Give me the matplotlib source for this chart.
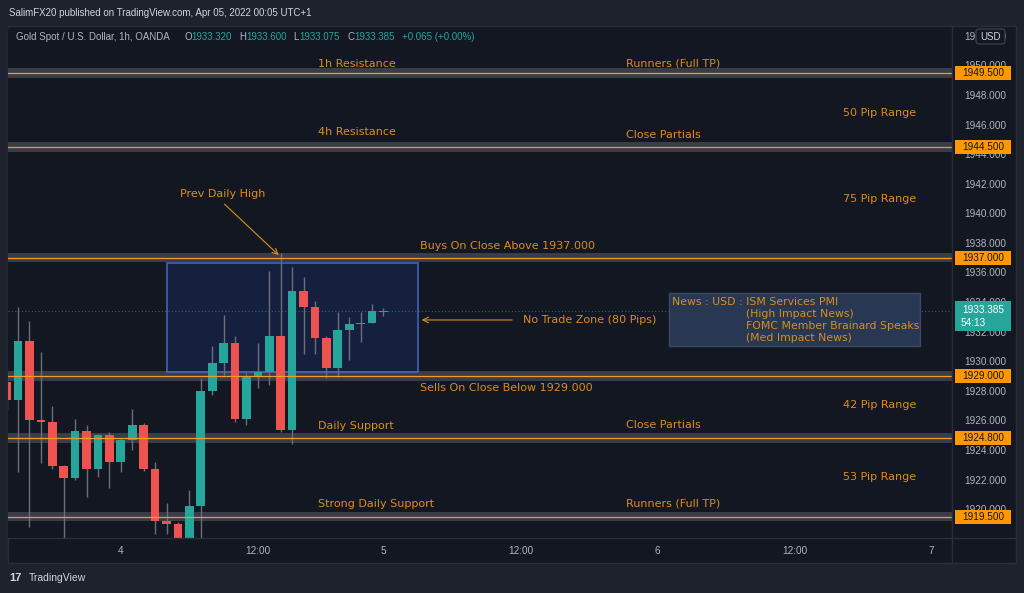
import matplotlib
matplotlib.use("Agg")
import matplotlib.pyplot as plt
import matplotlib.transforms as mtransforms
from matplotlib.patches import Rectangle, FancyBboxPatch

# hourly XAUUSD candles, bar 0 = Apr 4 00:00 (UTC+1)
bars = list(range(-10, 24))
opens = [1928.6, 1927.4, 1931.4, 1926.0, 1925.9, 1922.9, 1922.1, 1925.3, 1922.7, 1925.0,
         1923.2, 1924.7, 1925.7, 1922.7, 1919.2, 1919.0, 1917.8, 1920.2, 1928.0, 1929.9,
         1931.2, 1926.1, 1929.0, 1929.3, 1931.7, 1925.35, 1934.75, 1933.65, 1931.6, 1929.55,
         1932.1, 1932.5, 1932.6, 1933.32]
highs = [1929.3, 1933.7, 1932.7, 1930.6, 1927.0, 1923.0, 1926.1, 1925.7, 1925.1, 1925.2,
         1924.8, 1926.8, 1925.8, 1923.2, 1920.4, 1919.1, 1921.3, 1928.9, 1931.0, 1933.1,
         1931.7, 1929.2, 1931.2, 1936.1, 1937.3, 1936.4, 1935.7, 1934.1, 1931.7, 1933.35,
         1933.0, 1933.35, 1933.85, 1933.6]
lows = [1926.8, 1922.5, 1918.8, 1923.1, 1922.7, 1917.9, 1922.0, 1920.8, 1922.2, 1921.4,
        1922.5, 1924.0, 1922.6, 1918.3, 1918.3, 1917.7, 1917.6, 1917.6, 1927.7, 1929.1,
        1925.9, 1925.7, 1928.2, 1928.4, 1925.2, 1924.4, 1930.5, 1930.5, 1928.85, 1928.95,
        1930.1, 1931.3, 1932.6, 1933.075]
closes = [1927.4, 1931.4, 1926.0, 1925.9, 1922.9, 1922.1, 1925.3, 1922.7, 1925.0, 1923.2,
          1924.7, 1925.7, 1922.7, 1919.2, 1919.0, 1917.8, 1920.2, 1928.0, 1929.9, 1931.2,
          1926.1, 1929.0, 1929.3, 1931.7, 1925.35, 1934.75, 1933.65, 1931.6, 1929.55, 1932.1,
          1932.5, 1932.6, 1933.4, 1933.385]

levels = [1949.5, 1944.5, 1937.0, 1929.0, 1924.8, 1919.5]
last_price = 1933.385
x_ticks = [0, 12, 23, 35, 47, 59, 71]
x_labels = ['4', '12:00', '5', '12:00', '6', '12:00', '7']
y_ticks = list(range(1920, 1953, 2))

# text notes: (bar, price, text)
notes = [
    (17.3, 1950.1, '1h Resistance'),
    (44.25, 1950.1, 'Runners (Full TP)'),
    (63.2, 1946.78, '50 Pip Range'),
    (17.3, 1945.5, '4h Resistance'),
    (44.25, 1945.3, 'Close Partials'),
    (63.2, 1940.97, '75 Pip Range'),
    (26.2, 1937.79, 'Buys On Close Above 1937.000'),
    (35.2, 1932.79, 'No Trade Zone (80 Pips)'),
    (26.2, 1928.19, 'Sells On Close Below 1929.000'),
    (63.2, 1927.04, '42 Pip Range'),
    (17.3, 1925.62, 'Daily Support'),
    (44.25, 1925.69, 'Close Partials'),
    (63.2, 1922.17, '53 Pip Range'),
    (17.3, 1920.35, 'Strong Daily Support'),
    (44.25, 1920.35, 'Runners (Full TP)'),
]
news_lines = ['News : USD : ISM Services PMI', '(High Impact News)',
              'FOMC Member Brainard Speaks', '(Med Impact News)']

BG = '#131722'
OUT = '#1e222d'
GRID = '#2a2e39'
UP = '#26a69a'
DOWN = '#ef5350'
ORANGE = '#dd8c1e'
AXTXT = '#b2b5be'
NUMFONT = ['Liberation Sans', 'DejaVu Sans']

plt.rcParams['font.family'] = ['DejaVu Sans']

W, H = 1024, 593
fig = plt.figure(figsize=(W / 100, H / 100), dpi=100, facecolor=OUT)


def fx(px):
    return px / W


def fy(py):
    return 1 - py / H


# chart panel (behind the axes)
fig.patches.append(Rectangle((fx(8), fy(563)), (1016 - 8) / W, (563 - 26) / H,
                             transform=fig.transFigure, fc=BG, ec=GRID, lw=1, zorder=-5))

ax = fig.add_axes([fx(8), fy(538), (952 - 8) / W, (538 - 28) / H])
ax.set_facecolor(BG)
ax.set_xlim(-9.88, 72.78)
ax.set_ylim(1918.05, 1952.53)
for s in ax.spines.values():
    s.set_visible(False)

# separators
fig.add_artist(plt.Line2D([fx(952), fx(952)], [fy(26), fy(563)], color=GRID, lw=1))
fig.add_artist(plt.Line2D([fx(8), fx(1016)], [fy(538), fy(538)], color=GRID, lw=1))

ax.yaxis.tick_right()
ax.set_yticks(y_ticks)
ax.set_yticklabels([f'{v:.3f}' for v in y_ticks], family=NUMFONT)
ax.set_xticks(x_ticks)
ax.set_xticklabels(x_labels, family=NUMFONT)
ax.tick_params(axis='y', length=0, pad=8.5, labelsize=7.2, labelcolor=AXTXT)
ax.tick_params(axis='x', length=0, pad=6, labelsize=7.2, labelcolor=AXTXT)

# level bands and lines
for lv in levels:
    ax.axhspan(lv - 0.32, lv + 0.32, color='#3a3d47', lw=0, zorder=1)
    ax.axhline(lv, color='#f29b26', lw=0.9, zorder=5)

# no trade zone rectangle
ax.add_patch(Rectangle((4, 1929.25), 22, 1936.67 - 1929.25, fc=(0.16, 0.38, 1.0, 0.13),
                       ec=(0.27, 0.42, 0.78, 0.9), lw=1.2, zorder=1.5))

# last price dotted line
ax.axhline(last_price, color=UP, ls=(0, (1, 2)), lw=0.8, alpha=0.6, zorder=1.2)

# candles
for b, o, h, l, c in zip(bars, opens, highs, lows, closes):
    col = UP if c >= o else DOWN
    ax.vlines(b, l, h, color='#6b6e78', lw=1, zorder=3)
    body = max(abs(c - o), 0.08)
    ax.bar(b, body, bottom=min(o, c), width=0.76, color=col, lw=0, zorder=3.5)

# news box
ax.add_patch(Rectangle((48, 1931.05), 22, 1934.59 - 1931.05, fc='#283752',
                       ec='#3a4865', lw=1, zorder=4))
ax.text(48.25, 1934.0, news_lines[0], color=ORANGE, fontsize=7.8, va='center', zorder=6)
for i, ln in enumerate(news_lines[1:]):
    ax.text(54.7, 1933.2 - i * 0.8, ln, color=ORANGE, fontsize=7.8, va='center', zorder=6)

# notes
for x, y, t in notes:
    ax.text(x, y, t, color=ORANGE, fontsize=8, va='center', ha='left', zorder=6)

ax.text(8.9, 1941.31, 'Prev Daily High', color=ORANGE, fontsize=8, va='center', ha='center', zorder=6)
ax.annotate('', xy=(14.0, 1937.05), xytext=(8.9, 1940.75),
            arrowprops=dict(arrowstyle='->', color=ORANGE, lw=0.8), zorder=6)
ax.annotate('', xy=(26.1, 1932.79), xytext=(34.5, 1932.79),
            arrowprops=dict(arrowstyle='->', color=ORANGE, lw=0.8), zorder=6)

# price-axis labels
bt = mtransforms.blended_transform_factory(ax.transAxes, ax.transData)
x0 = (955 - 8) / 944
bw = 56 / 944
for lv in levels:
    ax.add_patch(Rectangle((x0, lv - 0.47), bw, 0.94, transform=bt, fc='#ff9800',
                           ec='none', clip_on=False, zorder=10))
    ax.text(x0 + bw / 2, lv, f'{lv:.3f}', transform=bt, ha='center', va='center',
            fontsize=7.2, color=BG, family=NUMFONT, clip_on=False, zorder=11)
ax.add_patch(Rectangle((x0, 1932.04), bw, 2.03, transform=bt, fc=UP, ec='none',
                       clip_on=False, zorder=10))
ax.text(x0 + bw / 2, 1933.45, f'{last_price:.3f}', transform=bt, ha='center', va='center',
        fontsize=7.2, color='white', family=NUMFONT, clip_on=False, zorder=11)
ax.text(x0 + 0.006, 1932.6, '54:13', transform=bt, ha='left', va='center',
        fontsize=7.2, color='white', family=NUMFONT, clip_on=False, zorder=11)

# USD badge
fig.patches.append(FancyBboxPatch((fx(976), fy(44)), 29 / W, 15 / H,
                                  boxstyle='round,pad=0,rounding_size=0.004',
                                  transform=fig.transFigure, fc=BG, ec='#434651', lw=0.8,
                                  zorder=20))
fig.text(fx(990.5), fy(36.5), 'USD', color='#d1d4dc', fontsize=7, ha='center', va='center',
         family=NUMFONT, zorder=21)

# header
fig.text(fx(9), fy(13), 'SalimFX20 published on TradingView.com, Apr 05, 2022 00:05 UTC+1',
         color='#d1d4dc', fontsize=7, va='center', family=NUMFONT)
hdr = [(16, 'Gold Spot / U.S. Dollar, 1h, OANDA', AXTXT),
       (184.3, 'O', AXTXT), (191.7, '1933.320', UP),
       (239.3, 'H', AXTXT), (246.7, '1933.600', UP),
       (293.3, 'L', AXTXT), (299.3, '1933.075', UP),
       (347.3, 'C', AXTXT), (354.3, '1933.385', UP),
       (401.7, '+0.065 (+0.00%)', UP)]
for px, t, c in hdr:
    fig.text(fx(px), fy(37), t, color=c, fontsize=7, va='center', family=NUMFONT)

# logo
fig.text(fx(9), fy(578), '17', color='#d1d4dc', fontsize=8, fontweight='bold', va='center',
         family=NUMFONT)
fig.text(fx(29), fy(578), 'TradingView', color='#d1d4dc', fontsize=7.5, va='center',
         family=NUMFONT)

fig.savefig('out.png', dpi=100, facecolor=OUT)
